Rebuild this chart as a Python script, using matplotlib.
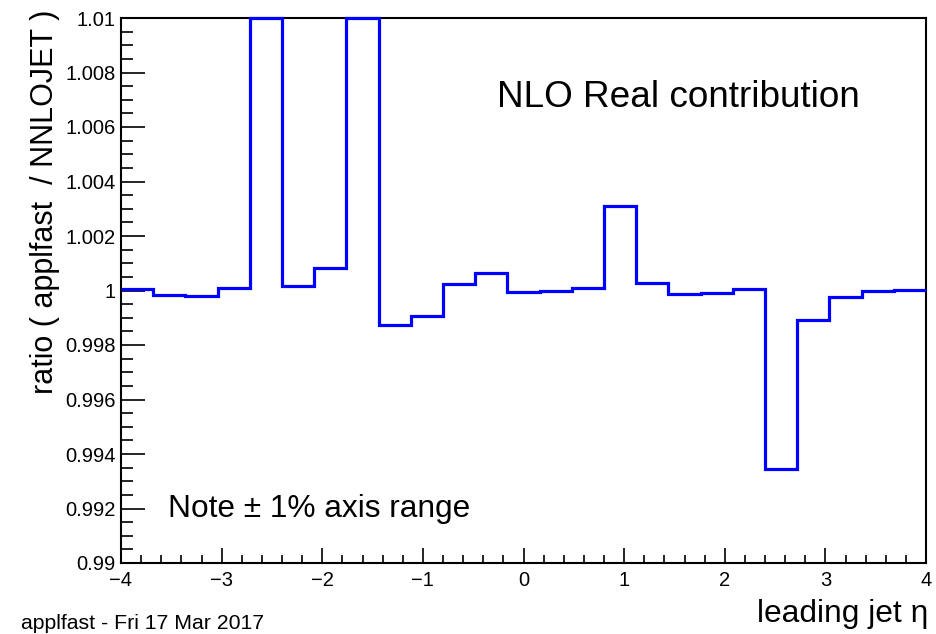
import matplotlib
matplotlib.use("Agg")
import matplotlib.pyplot as plt
import numpy as np
from matplotlib.ticker import MultipleLocator, FuncFormatter

plt.rcParams["font.family"] = ["Liberation Sans", "DejaVu Sans"]

# 25 eta bins of width 0.32 between -4 and 4
bin_edges = np.linspace(-4.0, 4.0, 26)
ratio = [
    1.00005, 0.99984, 0.99981, 1.00008, 1.0125,
    1.00018, 1.00082, 1.0125, 0.99872, 0.99906,
    1.00023, 1.00064, 0.99995, 1.00000, 1.00011,
    1.00311, 1.00027, 0.99987, 0.99990, 1.00004,
    0.99346, 0.99892, 0.99977, 0.99999, 1.00003,
]
y_lo, y_hi = 0.99, 1.01

W, H = 936, 634
fig = plt.figure(figsize=(W / 100, H / 100), dpi=100)
ax = fig.add_axes([121 / W, 1 - 563 / H, (926 - 121) / W, (563 - 18) / H])

# values outside the frame are drawn on the frame edge
shown = np.clip(ratio, y_lo, y_hi)
ax.stairs(shown, bin_edges, color="#0000ff", lw=2.3, baseline=None, clip_on=False, zorder=3)

ax.set_xlim(-4, 4)
ax.set_ylim(y_lo, y_hi)
ax.xaxis.set_major_locator(MultipleLocator(1))
ax.xaxis.set_minor_locator(MultipleLocator(0.2))
ax.yaxis.set_major_locator(MultipleLocator(0.002))
ax.yaxis.set_minor_locator(MultipleLocator(0.0005))


def ylab(v, _):
    s = f"{v:.3f}".rstrip("0").rstrip(".")
    return s


ax.yaxis.set_major_formatter(FuncFormatter(ylab))
ax.xaxis.set_major_formatter(FuncFormatter(lambda v, _: f"{v:g}".replace("-", "\u2212")))

ax.tick_params(axis="both", which="both", direction="in", top=False, right=False,
               labelsize=14.5, width=1.2)
ax.tick_params(axis="y", which="major", length=17, pad=4)
ax.tick_params(axis="y", which="minor", length=8.5)
ax.tick_params(axis="x", which="major", length=11, pad=6)
ax.tick_params(axis="x", which="minor", length=5.5)
for sp in ax.spines.values():
    sp.set_linewidth(1.5)

fig.text(45 / W, 1 - 10 / H, "ratio ( applfast  / NNLOJET )", fontsize=22,
         rotation=90, ha="center", va="top")

ax.text(0.467, 0.837, "NLO Real contribution", transform=ax.transAxes,
        fontsize=26.6, va="baseline")
ax.text(0.058, 0.084, "Note \u00b1 1% axis range", transform=ax.transAxes,
        fontsize=22.8, va="baseline")

fig.text(928 / W, 1 - 622 / H, "leading jet \u03b7", fontsize=22.9, ha="right", va="baseline")
fig.text(21 / W, 1 - 629 / H, "applfast - Fri 17 Mar 2017", fontsize=15.3, ha="left", va="baseline")

fig.savefig("out.png", dpi=100)
